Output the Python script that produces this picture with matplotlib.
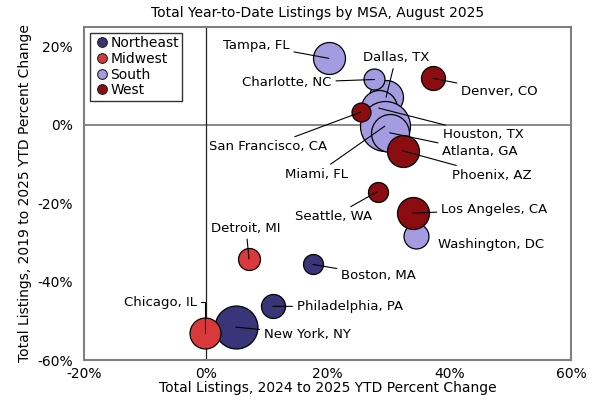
import numpy as np
import matplotlib
matplotlib.use('Agg')
import matplotlib.pyplot as plt
from matplotlib.lines import Line2D
from matplotlib.ticker import FuncFormatter

# data (drawing order: later points sit on top)
msa = ['New York, NY', 'Chicago, IL', 'Philadelphia, PA', 'Boston, MA', 'Detroit, MI',
       'Tampa, FL', 'Dallas, TX', 'Charlotte, NC', 'Houston, TX', 'Miami, FL',
       'Atlanta, GA', 'Washington, DC', 'Denver, CO', 'San Francisco, CA',
       'Phoenix, AZ', 'Seattle, WA', 'Los Angeles, CA']
region = ['Northeast', 'Midwest', 'Northeast', 'Northeast', 'Midwest',
          'South', 'South', 'South', 'South', 'South',
          'South', 'South', 'West', 'West',
          'West', 'West', 'West']
chg_24_25 = [4.9, -0.2, 11.0, 17.6, 7.1,
             20.2, 29.6, 27.7, 28.4, 29.4,
             30.2, 34.5, 37.3, 25.5,
             32.3, 28.2, 34.0]
chg_19_25 = [-51.6, -53.2, -46.3, -35.6, -34.2,
             17.0, 7.1, 11.6, 4.3, -0.3,
             -2.0, -28.4, 11.9, 3.3,
             -6.6, -17.0, -22.5]
listings_k = [46.2, 24.0, 14.4, 10.0, 12.1,
              25.6, 28.9, 11.0, 32.4, 62.5,
              36.1, 15.6, 14.4, 9.0,
              25.6, 10.0, 25.6]

regions = ['Northeast', 'Midwest', 'South', 'West']
colors = {'Northeast': '#3a3578', 'Midwest': '#d9393a',
          'South': '#a59be0', 'West': '#8b0d12'}

# label placement (data coords), alignment
label_pos = {
    'Tampa, FL': (13.8, 20.4, 'right'),
    'Charlotte, NC': (20.7, 10.8, 'right'),
    'Dallas, TX': (31.2, 17.1, 'center'),
    'Denver, CO': (41.9, 8.6, 'left'),
    'Houston, TX': (38.9, -2.5, 'left'),
    'Atlanta, GA': (38.8, -6.8, 'left'),
    'Phoenix, AZ': (40.4, -12.8, 'left'),
    'San Francisco, CA': (20.0, -5.5, 'right'),
    'Miami, FL': (23.3, -12.6, 'right'),
    'Seattle, WA': (20.9, -23.4, 'center'),
    'Los Angeles, CA': (38.6, -21.7, 'left'),
    'Washington, DC': (38.1, -30.5, 'left'),
    'Detroit, MI': (6.6, -26.4, 'center'),
    'Boston, MA': (22.2, -38.5, 'left'),
    'Philadelphia, PA': (14.9, -46.3, 'left'),
    'New York, NY': (9.5, -53.4, 'left'),
    'Chicago, IL': (-1.5, -45.3, 'right'),
}
no_leader = ['Washington, DC']

plt.rcParams['font.family'] = 'DejaVu Sans'
plt.rcParams['font.size'] = 9.5

fig = plt.figure(figsize=(6, 4), dpi=100)
ax = fig.add_axes([0.14, 0.1, 0.812, 0.8325])

ax.axhline(0, color='#7f7f7f', lw=1.3, zorder=1)
ax.axvline(0, color='#222222', lw=0.9, zorder=1)

for i in range(len(msa)):
    ax.scatter(chg_24_25[i], chg_19_25[i], s=listings_k[i] * 20.7,
               color=colors[region[i]], edgecolor='black', linewidth=0.9, zorder=3)

for i, name in enumerate(msa):
    tx, ty, ha = label_pos[name]
    if name in no_leader:
        ax.text(tx, ty, name, ha=ha, va='center', zorder=5)
        continue
    conn = 'arc3'
    if name == 'Chicago, IL':
        conn = 'angle,angleA=0,angleB=90,rad=0'
    ax.annotate(name, xy=(chg_24_25[i], chg_19_25[i]), xytext=(tx, ty),
                ha=ha, va='center', zorder=5,
                arrowprops=dict(arrowstyle='-', color='black', lw=0.8,
                                shrinkA=1, shrinkB=0, connectionstyle=conn))

ax.set_xlim(-20, 60)
ax.set_ylim(-60, 25)
ax.set_xticks([-20, 0, 20, 40, 60])
ax.set_yticks([-60, -40, -20, 0, 20])
ax.xaxis.set_major_formatter(FuncFormatter(lambda v, p: '%d%%' % v))
ax.yaxis.set_major_formatter(FuncFormatter(lambda v, p: '%d%%' % v))
ax.tick_params(axis='y', length=0, pad=8, labelsize=10)
ax.tick_params(axis='x', length=0, pad=5, labelsize=10)
for sp in ax.spines.values():
    sp.set_color('#808080')
    sp.set_linewidth(1.5)

ax.set_xlabel('Total Listings, 2024 to 2025 YTD Percent Change', fontsize=10, labelpad=0)
ax.set_ylabel('Total Listings, 2019 to 2025 YTD Percent Change', fontsize=10, labelpad=4)

fig.text(0.53, 0.967, 'Total Year-to-Date Listings by MSA, August 2025',
         ha='center', va='center', fontsize=10)

handles = [Line2D([], [], marker='o', ls='', markersize=7, markerfacecolor=colors[r],
                  markeredgecolor='#222222', markeredgewidth=0.8, label=r) for r in regions]
leg = ax.legend(handles=handles, loc='upper left', bbox_to_anchor=(0.004, 0.995),
                fancybox=False, edgecolor='#333333', framealpha=1, fontsize=10,
                handletextpad=0.0, handlelength=1.2, borderpad=0.25, labelspacing=0.12,
                borderaxespad=0.3)
leg.get_frame().set_linewidth(1.0)

plt.savefig('out.png', dpi=100)
